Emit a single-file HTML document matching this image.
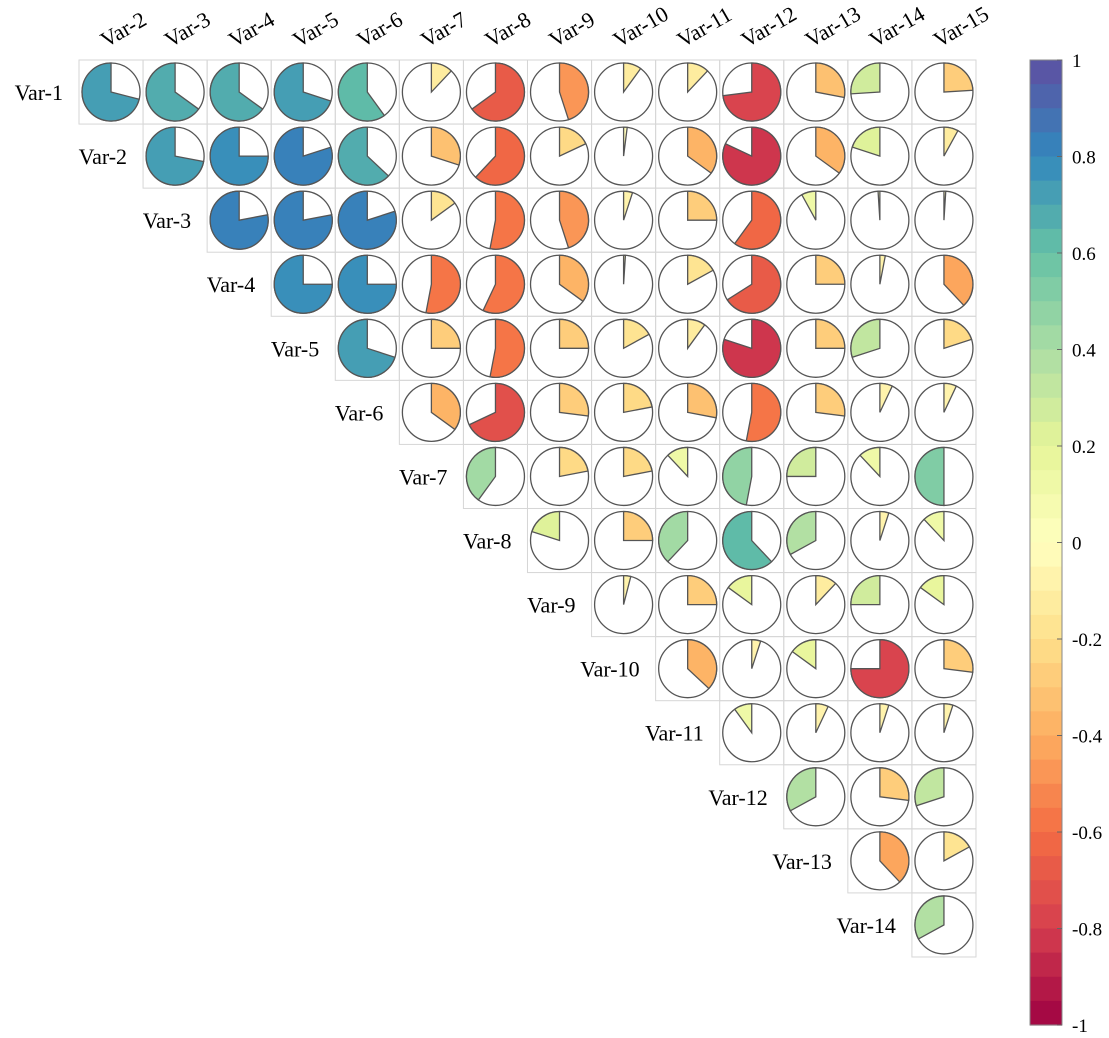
<!DOCTYPE html>
<html><head><meta charset="utf-8"><style>
body{margin:0;background:#fff}
svg text{font-family:"Liberation Serif",serif}
</style></head><body>
<svg id="s" width="1109" height="1033" xmlns="http://www.w3.org/2000/svg"></svg>
<script>
const V=[
[0.71,0.65,0.65,0.7,0.6,-0.12,-0.65,-0.45,-0.1,-0.12,-0.73,-0.28,0.26,-0.24],
[0.72,0.75,0.8,0.63,-0.3,-0.62,-0.18,-0.02,-0.35,-0.82,-0.35,0.2,-0.08],
[0.78,0.78,0.8,-0.15,-0.53,-0.45,-0.05,-0.25,-0.6,0.08,0.01,-0.01],
[0.75,0.75,-0.53,-0.57,-0.35,-0.01,-0.17,-0.66,-0.25,-0.03,-0.38],
[0.7,-0.25,-0.53,-0.25,-0.17,-0.1,-0.8,-0.25,0.3,-0.2],
[-0.35,-0.68,-0.27,-0.22,-0.28,-0.53,-0.27,-0.07,-0.07],
[0.4,-0.22,-0.22,0.12,0.47,0.25,0.12,0.5],
[0.2,-0.25,0.38,0.62,0.33,-0.05,0.12],
[-0.04,-0.25,0.15,-0.12,0.25,0.15],
[-0.37,-0.05,0.15,-0.75,-0.27],
[0.1,-0.07,-0.05,-0.05],
[0.33,-0.27,0.3],
[-0.38,-0.17],
[0.33]];
const stops=[[-1,[158,1,66]],[-0.8,[213,62,79]],[-0.6,[244,109,67]],[-0.4,[253,174,97]],[-0.2,[254,224,139]],[0,[255,255,191]],[0.2,[230,245,152]],[0.4,[171,221,164]],[0.6,[102,194,165]],[0.8,[50,136,189]],[1,[94,79,162]]];
function col(v){v=Math.max(-1,Math.min(1,v));for(let i=0;i<stops.length-1;i++){const a=stops[i],b=stops[i+1];if(v<=b[0]){const t=(v-a[0])/(b[0]-a[0]);const c=a[1].map((x,k)=>Math.round(x+(b[1][k]-x)*t));return`rgb(${c})`;}}return'rgb(94,79,162)';}
function q(v){return Math.round(v/0.05)*0.05+(v>=0?0.025:-0.025);}
let h='';const x0=79,y0=60,cs=64.07,R=29;
for(let r=0;r<14;r++){
 for(let j=0;j<V[r].length;j++){
  const c=r+j,x=x0+cs*c,y=y0+cs*r,cx=x+cs/2,cy=y+cs/2,v=V[r][j];
  h+=`<rect x="${x}" y="${y}" width="${cs}" height="${cs}" fill="none" stroke="#d6d6d6" stroke-width="1"/>`;
  h+=`<circle cx="${cx}" cy="${cy}" r="${R}" fill="#fff" stroke="#555" stroke-width="1.3"/>`;
  const f=Math.abs(v);
  if(f>0.003){
   const ang=f*2*Math.PI*(v>0?-1:1);
   const ex=cx+R*Math.sin(ang),ey=cy-R*Math.cos(ang);
   const large=f>0.5?1:0,sw=v>0?0:1;
   h+=`<path d="M${cx},${cy} L${cx},${cy-R} A${R},${R} 0 ${large} ${sw} ${ex},${ey} Z" fill="${col(q(v))}" stroke="#555" stroke-width="1.3"/>`;
  }
 }
 h+=`<text x="${x0+cs*r-16}" y="${y0+cs*r+cs/2+8}" font-size="22" text-anchor="end">Var-${r+1}</text>`;
 const lx=x0+cs*r+cs/2-5;
 h+=`<text x="${lx}" y="${y0-12}" font-size="22" transform="rotate(-30 ${lx} ${y0-12})">Var-${r+2}</text>`;
}
const bx=1030,by=60,bw=32,bh=965,n=40;
for(let i=0;i<n;i++){const v=1-(i+0.5)*2/n;h+=`<rect x="${bx}" y="${by+i*bh/n}" width="${bw}" height="${bh/n+0.6}" fill="${col(v)}"/>`;}
h+=`<rect x="${bx}" y="${by}" width="${bw}" height="${bh}" fill="none" stroke="#888" stroke-width="1"/>`;
for(let k=0;k<=10;k++){const v=1-k*0.2,y=by+k*bh/10;let t=Math.abs(v)<1e-9?'0':(Math.round(v*10)/10).toString();
h+=`<line x1="${bx+bw-5}" x2="${bx+bw}" y1="${y}" y2="${y}" stroke="#666"/><text x="${bx+bw+10}" y="${y+7}" font-size="19">${t}</text>`;}
document.getElementById('s').innerHTML=h;
</script>
</body></html>
